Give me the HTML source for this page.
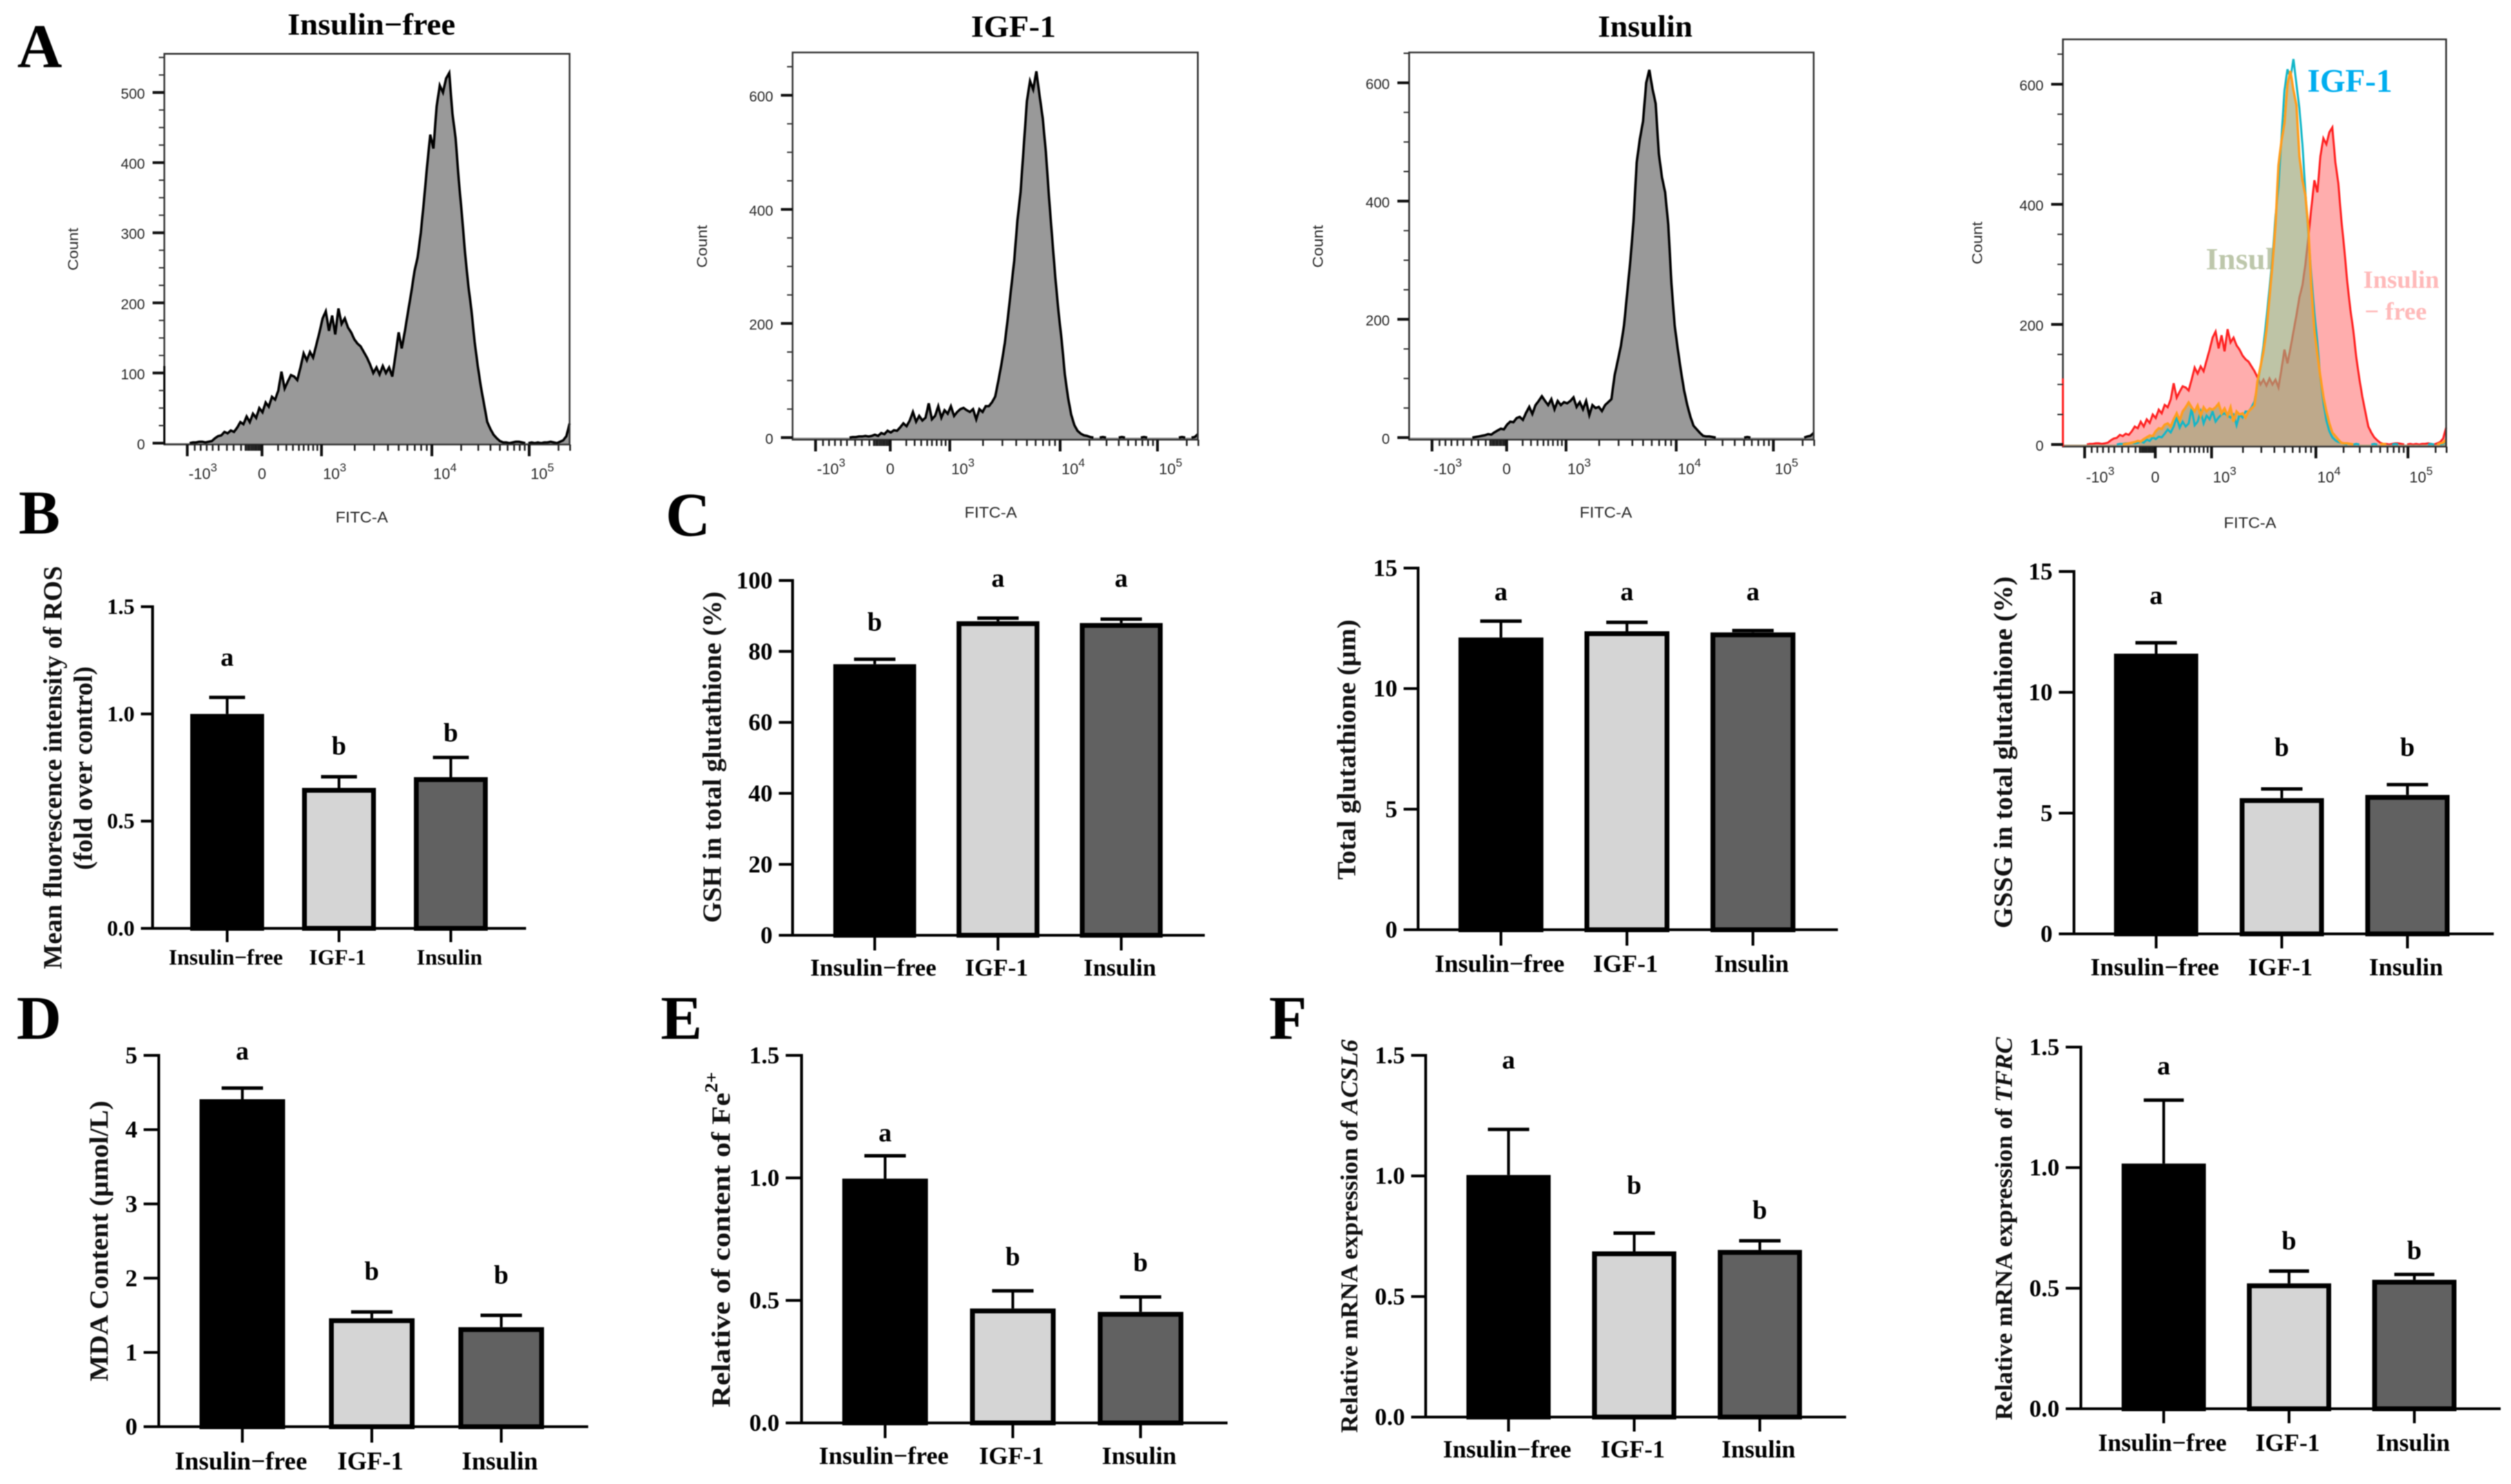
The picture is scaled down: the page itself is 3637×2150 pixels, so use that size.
<!DOCTYPE html>
<html lang="en">
<head>
<meta charset="utf-8">
<title>Flow cytometry and oxidative stress panels</title>
<style>
html,body{margin:0;padding:0;background:#fff;}
svg{display:block;filter:blur(0.9px);}
.serif{font-family:"Liberation Serif",serif;font-weight:bold;fill:#000;}
.sans{font-family:"Liberation Sans",sans-serif;fill:#2a2a2a;}
.panel{font-size:90px;}
.ytitle{font-size:38px;fill:#111;}
.htitle{font-size:44px;}
</style>
</head>
<body>
<svg id="root" xmlns="http://www.w3.org/2000/svg" width="3637" height="2150" viewBox="0 0 3637 2150">
<rect x="0" y="0" width="3637" height="2150" fill="#fff"/>
<text class="serif panel" x="25" y="97">A</text>
<text class="serif panel" x="27" y="773">B</text>
<text class="serif panel" x="964" y="776">C</text>
<text class="serif panel" x="24" y="1505">D</text>
<text class="serif panel" x="957" y="1505">E</text>
<text class="serif panel" x="1838" y="1505">F</text>

<text class="serif htitle" x="538" y="50" text-anchor="middle" textLength="243" lengthAdjust="spacingAndGlyphs">Insulin−free</text>
<text class="serif htitle" x="1468" y="53" text-anchor="middle" textLength="123" lengthAdjust="spacingAndGlyphs">IGF-1</text>
<text class="serif htitle" x="2383" y="53" text-anchor="middle" textLength="137" lengthAdjust="spacingAndGlyphs">Insulin</text>

<text class="serif htitle" x="3195" y="390" style="fill:#bdc7ab" textLength="137" lengthAdjust="spacingAndGlyphs">Insulin</text>

<text class="serif ytitle" transform="translate(89,1112) rotate(-90)" text-anchor="middle" textLength="584" lengthAdjust="spacingAndGlyphs">Mean fluorescence intensity of ROS</text>
<text class="serif ytitle" transform="translate(133,1113) rotate(-90)" text-anchor="middle" textLength="295" lengthAdjust="spacingAndGlyphs">(fold over control)</text>
<text class="serif ytitle" transform="translate(1044,1097) rotate(-90)" text-anchor="middle" textLength="480" lengthAdjust="spacingAndGlyphs">GSH in total glutathione (%)</text>
<text class="serif ytitle" transform="translate(1963,1086) rotate(-90)" text-anchor="middle" textLength="377" lengthAdjust="spacingAndGlyphs">Total glutathione (μm)</text>
<text class="serif ytitle" transform="translate(2914,1090) rotate(-90)" text-anchor="middle" textLength="510" lengthAdjust="spacingAndGlyphs">GSSG in total glutathione (%)</text>
<text class="serif ytitle" transform="translate(156,1798) rotate(-90)" text-anchor="middle" textLength="407" lengthAdjust="spacingAndGlyphs">MDA Content (μmol/L)</text>
<text class="serif ytitle" transform="translate(1057,1811) rotate(-90)" text-anchor="middle" textLength="456" lengthAdjust="spacingAndGlyphs">Relative of content of Fe</text>
<text class="serif" font-size="26" transform="translate(1039,1568) rotate(-90)" text-anchor="middle" textLength="30" lengthAdjust="spacingAndGlyphs">2+</text>
<text class="serif ytitle" style="font-size:35px" transform="translate(1966,1791) rotate(-90)" text-anchor="middle" textLength="570" lengthAdjust="spacingAndGlyphs">Relative mRNA expression of <tspan font-style="italic">ACSL6</tspan></text>
<text class="serif ytitle" style="font-size:35px" transform="translate(2914,1780) rotate(-90)" text-anchor="middle" textLength="555" lengthAdjust="spacingAndGlyphs">Relative mRNA expression of <tspan font-style="italic">TFRC</tspan></text>
</svg>

<script>
// ---------- shared categories ----------
const groupLabels = ['Insulin−free', 'IGF-1', 'Insulin'];
const barFills = ['#000000', '#d5d5d5', '#616161'];

// ---------- bar chart values ----------
const rosTicks = ['0.0', '0.5', '1.0', '1.5'];
const rosMeans = [1.0, 0.655, 0.705];
const rosErrorTops = [1.077, 0.707, 0.797];
const rosLetters = ['a', 'b', 'b'];
const rosLetterLevels = [1.25, 0.849, 0.911];

const gshTicks = ['0', '20', '40', '60', '80', '100'];
const gshMeans = [76.4, 88.5, 88.0];
const gshErrorTops = [77.8, 89.4, 89.1];
const gshLetters = ['b', 'a', 'a'];
const gshLetterLevels = [88.2, 99.8, 99.8];

const totalTicks = ['0', '5', '10', '15'];
const totalMeans = [12.12, 12.38, 12.33];
const totalErrorTops = [12.8, 12.75, 12.41];
const totalLetters = ['a', 'a', 'a'];
const totalLetterLevels = [13.9, 13.9, 13.9];

const gssgTicks = ['0', '5', '10', '15'];
const gssgMeans = [11.6, 5.62, 5.75];
const gssgErrorTops = [12.05, 6.0, 6.18];
const gssgLetters = ['a', 'b', 'b'];
const gssgLetterLevels = [13.88, 7.72, 7.72];

const mdaTicks = ['0', '1', '2', '3', '4', '5'];
const mdaMeans = [4.41, 1.46, 1.34];
const mdaErrorTops = [4.56, 1.545, 1.5];
const mdaLetters = ['a', 'b', 'b'];
const mdaLetterLevels = [5.02, 2.09, 2.04];

const feTicks = ['0.0', '0.5', '1.0', '1.5'];
const feMeans = [0.997, 0.467, 0.453];
const feErrorTops = [1.09, 0.539, 0.514];
const feLetters = ['a', 'b', 'b'];
const feLetterLevels = [1.172, 0.677, 0.654];

const acslTicks = ['0.0', '0.5', '1.0', '1.5'];
const acslMeans = [1.004, 0.687, 0.693];
const acslErrorTops = [1.193, 0.763, 0.731];
const acslLetters = ['a', 'b', 'b'];
const acslLetterLevels = [1.469, 0.96, 0.857];

const tfrcTicks = ['0.0', '0.5', '1.0', '1.5'];
const tfrcMeans = [1.017, 0.52, 0.535];
const tfrcErrorTops = [1.28, 0.571, 0.557];
const tfrcLetters = ['a', 'b', 'b'];
const tfrcLetterLevels = [1.41, 0.695, 0.655];

// ---------- histogram values: counts in channel bins 0,2,4 ... 256 ----------
const freeCounts = [
0,0,0,0,0,0,0,0,0,1,1,2,2,1,2,3,
7,10,11,16,14,18,16,22,30,27,38,30,42,36,50,44,
58,52,66,62,75,102,78,88,97,95,90,108,128,118,130,122,
140,158,178,188,160,182,155,192,170,178,165,158,148,142,138,130,
122,112,100,108,98,110,100,108,95,125,158,135,160,188,215,245,
265,300,345,395,440,420,480,510,500,520,528,470,435,375,325,270,
225,190,145,110,80,55,30,20,12,7,3,1,1,0,1,2,
2,1,0,0,1,0,1,0,1,1,2,1,0,2,4,10,
28];
const freeLeftEdgeCount = 110;
const igfCounts = [
0,0,0,0,0,0,0,0,0,0,0,0,0,0,0,0,
0,0,0,1,1,2,2,3,2,3,5,3,8,6,12,9,
13,12,18,25,20,30,45,28,38,30,35,60,32,38,55,35,
48,42,55,38,45,50,52,48,45,50,32,50,45,55,55,62,
72,100,130,165,210,260,310,380,430,510,590,625,610,642,600,560,
500,420,350,280,220,170,110,70,40,22,12,7,4,3,1,0,
0,0,1,0,0,0,0,0,1,0,0,0,0,0,0,1,
0,0,0,0,0,0,0,0,0,0,0,1,0,0,0,1,
6];
const insulinCounts = [
0,0,0,0,0,0,0,0,0,0,0,0,0,0,0,0,
0,0,0,0,0,1,2,3,4,6,5,9,12,15,14,22,
27,26,33,35,30,42,52,40,55,62,70,62,55,65,48,62,
55,60,58,62,68,52,60,48,62,38,55,50,52,45,55,60,
65,105,130,155,190,245,300,365,465,505,535,600,622,590,565,480,
440,415,360,260,190,150,113,80,55,35,20,14,8,3,2,2,
1,0,0,0,0,0,0,0,0,0,0,1,0,0,0,0,
0,0,0,0,0,0,0,0,0,0,0,0,0,0,2,3,
8];
const binStep = 2;
const countTicks500 = [0, 100, 200, 300, 400, 500];
const countTicks600 = [0, 200, 400, 600];
const fitcTickBins = [14.5, 61.7, 99.3, 169, 230.5];
const fitcTickBases = ['-10', '0', '10', '10', '10'];
const fitcTickPowers = ['3', '', '3', '4', '5'];

// ---------- layout (chart frames, not data) ----------
const barPanels = [
 {key:'ros', means:rosMeans, tops:rosErrorTops, letters:rosLetters, levels:rosLetterLevels, ticks:rosTicks, axis:221, left:204, right:762, y0:1345, yTop:879, first:329, step:162, w:107, cap:26, drop:20, labelY:1387, catFont:31.7, tickFont:32},
 {key:'gsh', means:gshMeans, tops:gshErrorTops, letters:gshLetters, levels:gshLetterLevels, ticks:gshTicks, axis:1148, left:1128, right:1745, y0:1355, yTop:841, first:1267, step:178.5, w:120, cap:30, drop:22, labelY:1402, catFont:35, tickFont:35},
 {key:'total-glutathione', means:totalMeans, tops:totalErrorTops, letters:totalLetters, levels:totalLetterLevels, ticks:totalTicks, axis:2054, left:2033, right:2662, y0:1347, yTop:823, first:2174, step:182.5, w:123, cap:30, drop:23, labelY:1396, catFont:36, tickFont:35},
 {key:'gssg', means:gssgMeans, tops:gssgErrorTops, letters:gssgLetters, levels:gssgLetterLevels, ticks:gssgTicks, axis:3004, left:2982, right:3612, y0:1353, yTop:828, first:3123, step:182, w:122, cap:30, drop:21, labelY:1401, catFont:35.7, tickFont:35},
 {key:'mda', means:mdaMeans, tops:mdaErrorTops, letters:mdaLetters, levels:mdaLetterLevels, ticks:mdaTicks, axis:230, left:208, right:852, y0:2067, yTop:1529, first:351, step:187.5, w:124, cap:30, drop:23, labelY:2117, catFont:36.7, tickFont:35},
 {key:'fe', means:feMeans, tops:feErrorTops, letters:feLetters, levels:feLetterLevels, ticks:feTicks, axis:1161, left:1138, right:1778, y0:2061.5, yTop:1529, first:1282, step:185, w:124, cap:30, drop:22, labelY:2109, catFont:36, tickFont:35},
 {key:'acsl6', means:acslMeans, tops:acslErrorTops, letters:acslLetters, levels:acslLetterLevels, ticks:acslTicks, axis:2065, left:2044, right:2674, y0:2053, yTop:1529, first:2185, step:182, w:122, cap:30, drop:21, labelY:2100, catFont:35.6, tickFont:35},
 {key:'tfrc', means:tfrcMeans, tops:tfrcErrorTops, letters:tfrcLetters, levels:tfrcLetterLevels, ticks:tfrcTicks, axis:3014, left:2992, right:3622, y0:2041, yTop:1517, first:3134, step:181.5, w:122, cap:29, drop:21, labelY:2090, catFont:35.7, tickFont:35}
];
const histPanels = [
 {key:'insulin-free', counts:freeCounts, ticks:countTicks500, minor:25, left:238, right:825, top:78, bottom:644, y0:642, yTop:134, countX:105, countY:361, fitcX:524, fitcY:748, labelY:685},
 {key:'igf-1', counts:igfCounts, ticks:countTicks600, minor:50, left:1148, right:1735, top:76, bottom:637, y0:634, yTop:138, countX:1016, countY:357, fitcX:1435, fitcY:741, labelY:678},
 {key:'insulin', counts:insulinCounts, ticks:countTicks600, minor:50, left:2041, right:2627, top:76, bottom:637, y0:634, yTop:120, countX:1908, countY:357, fitcX:2326, fitcY:741, labelY:678},
 {key:'overlay', overlay:true, ticks:countTicks600, minor:50, left:2988, right:3543, top:57, bottom:647, y0:644, yTop:122, countX:2863, countY:352, fitcX:3259, fitcY:756, labelY:690}
];

const SVGNS = 'http://www.w3.org/2000/svg';
const root = document.getElementById('root');
function mk(tag, parent, attrs, text){
  const n = document.createElementNS(SVGNS, tag);
  for (const k in attrs) n.setAttribute(k, attrs[k]);
  if (text !== undefined) n.textContent = text;
  parent.appendChild(n);
  return n;
}

// ---------- bar charts ----------
function drawBarPanel(p){
  const g = mk('g', root, {});
  
  
  const maxTick = parseFloat(p.ticks[p.ticks.length - 1]);
  const yScale = v => p.y0 - (v / maxTick) * (p.y0 - p.yTop);
  const xScale = i => p.first + i * p.step;
  const sw = 7;

  p.means.forEach((m, i) => {
    const c = xScale(i);
    const stem = mk('line', g, {x1:c, x2:c, y1:yScale(m), y2:yScale(p.tops[i]), stroke:'#000', 'stroke-width':4});
    
    
    const cap = mk('line', g, {x1:c - p.cap, x2:c + p.cap, y1:yScale(p.tops[i]), y2:yScale(p.tops[i]), stroke:'#000', 'stroke-width':5});
    
    
    const bar = mk('rect', g, {x:c - p.w / 2 + sw / 2, y:yScale(m) + sw / 2, width:p.w - sw, height:Math.max(0, p.y0 - yScale(m) - sw / 2), fill:barFills[i], stroke:'#000', 'stroke-width':sw});
    
    
    const letter = p.letters[i];
    const sig = mk('text', g, {x:c, y:yScale(p.levels[i]) + (letter === 'a' ? 8 : 12), 'text-anchor':'middle', 'font-size':38, class:'serif'}, letter);
    
    
    const tick = mk('line', g, {x1:c, x2:c, y1:p.y0, y2:p.y0 + p.drop, stroke:'#000', 'stroke-width':4});
    
    
    const lab = mk('text', g, {x:c - 2, y:p.labelY + p.catFont * 0.33, 'text-anchor':'middle', 'font-size':p.catFont, class:'serif'}, groupLabels[i]);
    
    
  });

  const yAxis = mk('line', g, {x1:p.axis, x2:p.axis, y1:p.yTop - 2, y2:p.y0 + 2, stroke:'#000', 'stroke-width':4});
  
  
  const xAxis = mk('line', g, {x1:p.left, x2:p.right, y1:p.y0, y2:p.y0, stroke:'#000', 'stroke-width':4});
  
  

  p.ticks.forEach(t => {
    const y = yScale(parseFloat(t));
    const tick = mk('line', g, {x1:p.left, x2:p.axis, y1:y, y2:y, stroke:'#000', 'stroke-width':4});
    
    
    const lab = mk('text', g, {x:p.left - 9, y:y + p.tickFont * 0.33, 'text-anchor':'end', 'font-size':p.tickFont, class:'serif'}, t);
    
    
  });
}

// ---------- histograms ----------
function curvePoints(counts, xScale, yScale){
  return counts.map((c, i) => xScale(i * binStep).toFixed(1) + ',' + yScale(c).toFixed(1));
}
function curvePath(counts, xScale, yScale){
  // zero-count stretches lie on the frame, so only non-empty runs get a stroke
  let d = '';
  let pen = false;
  for (let i = 0; i < counts.length - 1; i++) {
    if (counts[i] > 0 || counts[i + 1] > 0) {
      const x1 = xScale(i * binStep).toFixed(1), y1 = yScale(counts[i]).toFixed(1);
      const x2 = xScale((i + 1) * binStep).toFixed(1), y2 = yScale(counts[i + 1]).toFixed(1);
      d += (pen ? '' : 'M' + x1 + ',' + y1) + 'L' + x2 + ',' + y2;
      pen = true;
    } else {
      pen = false;
    }
  }
  return d;
}
function areaPoints(counts, xScale, yScale, base){
  return xScale(0) + ',' + base + ' ' + curvePoints(counts, xScale, yScale).join(' ') + ' ' + xScale(256) + ',' + base;
}
function minorBins(){
  const out = [];
  const logs = [0.301, 0.477, 0.602, 0.699, 0.778, 0.845, 0.903, 0.954];
  const t = fitcTickBins;
  logs.forEach(f => { out.push(t[2] + f * (t[3] - t[2])); out.push(t[3] + f * (t[4] - t[3])); });
  [0.27, 0.41, 0.52, 0.62, 0.7, 0.78, 0.86, 0.93].forEach(f => out.push(t[1] + f * (t[2] - t[1])));
  [0.1, 0.18, 0.26, 0.34, 0.42, 0.53, 0.62, 0.72, 0.78, 0.83, 0.88, 0.92, 0.96].forEach(f => out.push(t[0] + f * (t[1] - t[0])));
  for (let b = t[1] - 10; b < t[1]; b += 1.1) out.push(b);
  out.push(t[4] + 0.301 * (t[4] - t[3]), t[4] + 0.42 * (t[4] - t[3]));
  return out;
}
function drawHistPanel(p){
  const g = mk('g', root, {});
  
  
  const topTick = p.ticks[p.ticks.length - 1];
  const yScale = c => p.y0 - (c / topTick) * (p.y0 - p.yTop);
  const xScale = b => p.left + (b / 256) * (p.right - p.left);

  if (p.overlay) {
    const under = mk('polygon', g, {points:areaPoints(insulinCounts, xScale, yScale, p.bottom), fill:'#fff'});
    
    
    const redFill = mk('polygon', g, {points:areaPoints(freeCounts, xScale, yScale, p.bottom), fill:'#ffadad'});
    
    
    const redLine = mk('path', g, {d:curvePath(freeCounts, xScale, yScale), fill:'none', stroke:'#ff2222', 'stroke-width':3});
    
    
    const sage = mk('polygon', g, {points:areaPoints(insulinCounts, xScale, yScale, p.bottom), fill:'rgb(158,167,122)', 'fill-opacity':0.67});
    
    
    const cyanLine = mk('path', g, {d:curvePath(igfCounts, xScale, yScale), fill:'none', stroke:'#12b6c8', 'stroke-width':3});
    
    
    const orangeLine = mk('path', g, {d:curvePath(insulinCounts, xScale, yScale), fill:'none', stroke:'#ff9d1e', 'stroke-width':3.5});
    
    
  } else {
    const area = mk('polygon', g, {points:areaPoints(p.counts, xScale, yScale, p.bottom), fill:'#999999'});
    
    
    const line = mk('path', g, {d:curvePath(p.counts, xScale, yScale), fill:'none', stroke:'#000', 'stroke-width':3.5});
    
    
  }

  const box = mk('rect', g, {x:p.left, y:p.top, width:p.right - p.left, height:p.bottom - p.top, fill:'none', stroke:'#333', 'stroke-width':2.5});
  
  

  if (p.overlay || p.counts === freeCounts) {
    const spike = mk('line', g, {x1:p.left, x2:p.left, y1:p.bottom, y2:yScale(freeLeftEdgeCount), stroke:p.overlay ? '#ff2222' : '#000', 'stroke-width':3});
    
    
  }

  for (let c = 0; yScale(c) > p.top; c += p.minor) {
    if (p.ticks.includes(c)) continue;
    const t = mk('line', g, {x1:p.left - 8, x2:p.left, y1:yScale(c), y2:yScale(c), stroke:'#333', 'stroke-width':2});
    
    
  }
  p.ticks.forEach(c => {
    const t = mk('line', g, {x1:p.left - 17, x2:p.left, y1:yScale(c), y2:yScale(c), stroke:'#111', 'stroke-width':4});
    
    
    const lab = mk('text', g, {x:p.left - 28, y:yScale(c) + 9, 'text-anchor':'end', 'font-size':21, class:'sans'}, String(c));
    
    
  });

  minorBins().forEach(b => {
    const t = mk('line', g, {x1:xScale(b), x2:xScale(b), y1:p.bottom, y2:p.bottom + 9, stroke:'#222', 'stroke-width':2.5});
    
    
  });
  fitcTickBins.forEach((b, i) => {
    const x = xScale(b);
    const t = mk('line', g, {x1:x, x2:x, y1:p.bottom, y2:p.bottom + 17, stroke:'#111', 'stroke-width':4});
    
    
    const isZero = fitcTickPowers[i] === '';
    const lab = mk('text', g, {x:isZero ? x : x + 2, y:p.labelY + 9, 'text-anchor':isZero ? 'middle' : 'start', 'font-size':22, class:'sans'}, fitcTickBases[i]);
    
    
    if (!isZero) {
      const sup = mk('tspan', lab, {dy:-11, 'font-size':17}, fitcTickPowers[i]);
      
      
    }
  });

  const count = mk('text', g, {transform:'translate(' + (p.countX + 8) + ',' + p.countY + ') rotate(-90)', 'text-anchor':'middle', 'font-size':21, class:'sans', textLength:62, lengthAdjust:'spacingAndGlyphs'}, 'Count');
  
  
  const fitc = mk('text', g, {x:p.fitcX, y:p.fitcY + 9, 'text-anchor':'middle', 'font-size':22, class:'sans', textLength:76, lengthAdjust:'spacingAndGlyphs'}, 'FITC-A');
  
  
}

histPanels.forEach(drawHistPanel);
barPanels.forEach(drawBarPanel);

// ---------- overlay legend labels sit above the curves ----------
const igfNote = mk('text', root, {x:3342, y:133, 'font-size':48, class:'serif', style:'fill:#00aeef', textLength:123, lengthAdjust:'spacingAndGlyphs'}, 'IGF-1');


const freeNote1 = mk('text', root, {x:3423, y:417, 'font-size':36, class:'serif', style:'fill:#ffb9b9', textLength:110, lengthAdjust:'spacingAndGlyphs'}, 'Insulin');


const freeNote2 = mk('text', root, {x:3425, y:463, 'font-size':36, class:'serif', style:'fill:#ffb9b9', textLength:90, lengthAdjust:'spacingAndGlyphs'}, '− free');


</script>
</body>
</html>
